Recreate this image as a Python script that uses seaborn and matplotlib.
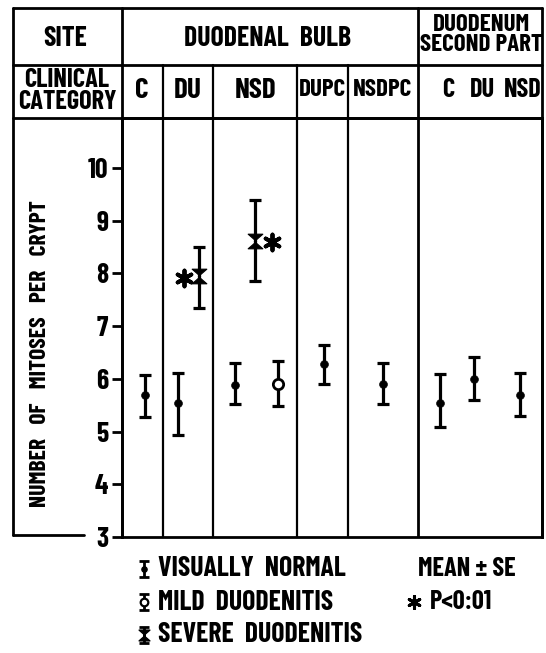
import matplotlib
matplotlib.use('Agg')
import matplotlib.pyplot as plt
from matplotlib.lines import Line2D
from matplotlib.path import Path
from matplotlib import font_manager
import seaborn as sns
import pandas as pd

# --------------------
# data
# --------------------
groups = ['C', 'DU', 'DU', 'NSD', 'NSD', 'NSD', 'DUPC', 'NSDPC', 'C2', 'DU2', 'NSD2']
conditions = ['normal', 'normal', 'severe', 'normal', 'severe', 'mild',
              'normal', 'normal', 'normal', 'normal', 'normal']
means = [5.70, 5.55, 7.95, 5.88, 8.62, 5.90, 6.28, 5.90, 5.55, 6.00, 5.70]
lower = [5.28, 4.93, 7.35, 5.52, 7.85, 5.48, 5.90, 5.52, 5.08, 5.60, 5.30]
upper = [6.08, 6.12, 8.50, 6.30, 9.40, 6.33, 6.65, 6.30, 6.10, 6.42, 6.12]
signif = [False, False, True, False, True, False, False, False, False, False, False]
yticks = [3, 4, 5, 6, 7, 8, 9, 10]

df = pd.DataFrame({'group': groups, 'condition': conditions, 'mean': means,
                   'lower': lower, 'upper': upper, 'signif': signif})

# --------------------
# layout (pixels of a 546x653 canvas)
# --------------------
W, H = 546, 653
def fx(px):
    return px / W
def fy(py):
    return 1 - py / H

# x offsets inside the plot area (0 .. 420)
col_edges = [41, 91, 175, 226, 296]
xpos = {('C', 'normal'): 23, ('DU', 'normal'): 56, ('DU', 'severe'): 77,
        ('NSD', 'normal'): 113, ('NSD', 'severe'): 133, ('NSD', 'mild'): 156,
        ('DUPC', 'normal'): 202, ('NSDPC', 'normal'): 261,
        ('C2', 'normal'): 318, ('DU2', 'normal'): 352, ('NSD2', 'normal'): 398}
star_off = {'DU': -15, 'NSD': 17}
df['x'] = [xpos[(g, c)] for g, c in zip(df['group'], df['condition'])]

sns.set_style('white')
names = {f.name for f in font_manager.fontManager.ttflist}
fam = 'DejaVu Sans'
for cand in ['Barlow Condensed', 'Roboto Condensed', 'Saira Condensed', 'Archivo Narrow',
             'Oswald', 'Antonio', 'Liberation Sans Narrow']:
    if cand in names:
        fam = cand
        break
plt.rcParams['font.family'] = [fam, 'DejaVu Sans']
plt.rcParams['font.weight'] = 'bold'
for k in ['text.color', 'axes.labelcolor', 'xtick.color', 'ytick.color']:
    plt.rcParams[k] = 'k'

LW = 2.0
hourglass = Path([(-1, 1), (1, 1), (-0.15, 0), (1, -1), (-1, -1), (0.15, 0), (-1, 1)],
                 [Path.MOVETO] + [Path.LINETO] * 5 + [Path.CLOSEPOLY])

fig = plt.figure(figsize=(W / 100, H / 100), dpi=100)
ax = fig.add_axes([fx(122), fy(537), (542 - 122) / W, (537 - 118) / H])

# error bars (mean +- SE)
ax.errorbar(df['x'], df['mean'],
            yerr=[df['mean'] - df['lower'], df['upper'] - df['mean']],
            fmt='none', ecolor='k', elinewidth=2.3, capsize=4.5, capthick=2.3, zorder=2)

# mean markers
sns.scatterplot(data=df[df['condition'] == 'normal'], x='x', y='mean', ax=ax,
                color='k', s=32, marker='o', edgecolor='k', zorder=3, legend=False)
sns.scatterplot(data=df[df['condition'] == 'mild'], x='x', y='mean', ax=ax,
                color='white', s=55, marker='o', edgecolor='k', linewidth=2, zorder=3, legend=False)
sns.scatterplot(data=df[df['condition'] == 'severe'], x='x', y='mean', ax=ax,
                color='k', s=110, marker=hourglass, edgecolor='k', zorder=3, legend=False)

# significance stars
sig = df[df['signif']].copy()
sig['sx'] = sig['x'] + sig['group'].map(star_off)
ax.scatter(sig['sx'], sig['mean'] - 0.03, marker=(6, 2, 0), s=130, c='k', linewidths=2.8, zorder=3)

for e in col_edges:
    ax.axvline(e, color='k', lw=1.6 if e != 296 else LW)

ax.set_xlim(0, 420)
ax.set_ylim(3, 10.95)
ax.set_yticks(yticks)
ax.set_xticks([])
ax.set_xlabel('')
ax.set_ylabel('')
ax.tick_params(axis='y', direction='out', length=7, width=LW, labelsize=20, pad=3, left=True)
for lab in ax.get_yticklabels():
    lab.set_fontweight('bold')
for s in ax.spines.values():
    s.set_linewidth(LW)
    s.set_color('k')

# --------------------
# table lines around the plot
# --------------------
def hline(y, x0, x1, lw=LW):
    fig.add_artist(Line2D([fx(x0), fx(x1)], [fy(y), fy(y)], color='k', lw=lw))
def vline(x, y0, y1, lw=LW):
    fig.add_artist(Line2D([fx(x), fx(x)], [fy(y0), fy(y1)], color='k', lw=lw))

hline(8, 13, 542)
hline(65, 13, 542)
hline(118, 13, 542)
hline(535, 13, 84)
vline(13, 8, 535)
vline(542, 8, 537)
vline(122, 8, 537)
vline(122 + 296, 8, 118)
for e in col_edges[:-1]:
    vline(122 + e, 65, 118, lw=1.6)

def label(x, y, s, size, **kw):
    fig.text(fx(x), fy(y), s, ha='center', va='center', fontsize=size, fontweight='bold', **kw)

label(65, 38, 'SITE', 20)
label(268, 38, 'DUODENAL  BULB', 20)
label(481, 35, 'DUODENUM\nSECOND PART', 18, linespacing=0.92)
label(67, 91, 'CLINICAL\nCATEGORY', 19, linespacing=0.88)
label(142, 90, 'C', 21)
label(188, 90, 'DU', 21)
label(256, 90, 'NSD', 21)
label(322, 90, 'DUPC', 18)
label(383, 90, 'NSDPC', 18)
label(448, 90, 'C', 19)
label(482, 90, 'DU', 19)
label(523, 90, 'NSD', 19)
label(40, 354, 'NUMBER   OF   MITOSES   PER   CRYPT', 17, rotation=90)

# --------------------
# legend
# --------------------
lax = fig.add_axes([0, 0, 1, (H - 540) / H])
lax.set_xlim(0, W)
lax.set_ylim(H, 540)
lax.axis('off')
rows = [('normal', 'VISUALLY  NORMAL', 569), ('mild', 'MILD  DUODENITIS', 602),
        ('severe', 'SEVERE  DUODENITIS', 635)]
for cond, text, yy in rows:
    lax.errorbar([144], [yy], yerr=[[8], [8]], fmt='none', ecolor='k',
                 elinewidth=2, capsize=3.5, capthick=2)
    if cond == 'normal':
        lax.scatter([144], [yy], s=14, c='k', zorder=3)
    elif cond == 'mild':
        lax.scatter([144], [yy], s=30, c='white', edgecolors='k', linewidths=1.6, zorder=3)
    else:
        lax.scatter([144], [yy], s=60, c='k', marker=hourglass, zorder=3)
    lax.text(158, yy, text, ha='left', va='center', fontsize=20, fontweight='bold')
lax.text(418, 569, 'MEAN \u00b1 SE', ha='left', va='center', fontsize=19, fontweight='bold')
lax.scatter([414], [602], marker=(6, 2, 0), s=75, c='k', linewidths=2.2)
lax.text(430, 602, 'P<0:01', ha='left', va='center', fontsize=19, fontweight='bold')

fig.savefig('out.png', dpi=100)
